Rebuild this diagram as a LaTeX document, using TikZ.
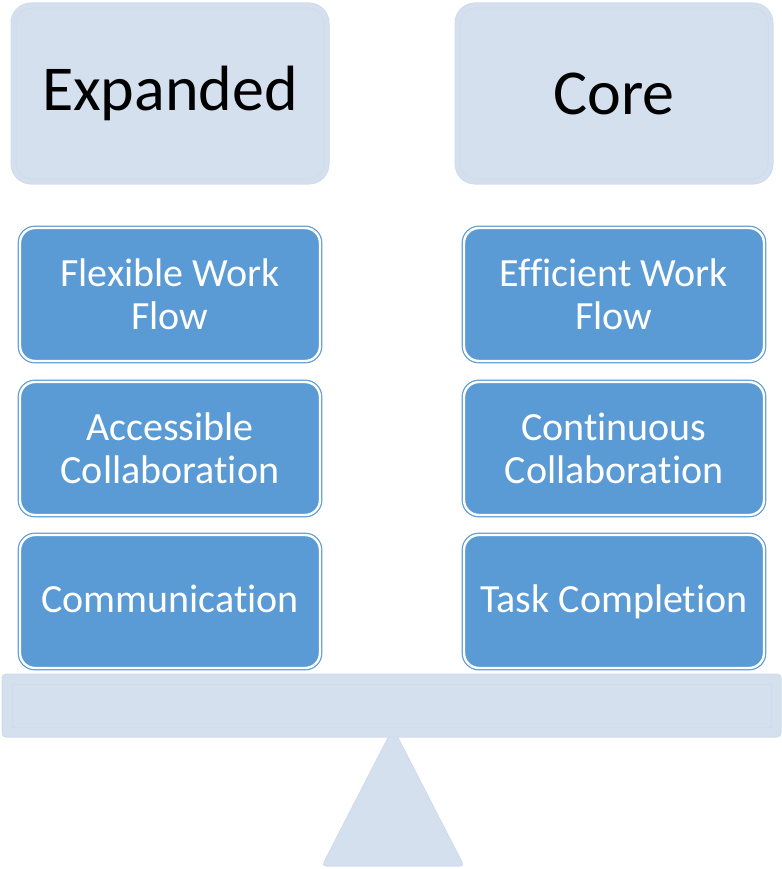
\documentclass[tikz,border=0pt]{standalone}
\usepackage{fontspec}
\setmainfont[Ligatures=NoCommon]{Carlito}
\newcommand{\nl}{\kern0pt{}}
\definecolor{hdrfill}{HTML}{D5E0EF}
\definecolor{hdrline}{HTML}{D0DCEC}
\definecolor{boxblue}{HTML}{5B9BD5}
\begin{document}
\begin{tikzpicture}[x=1pt,y=1pt,
  header/.style={rectangle, rounded corners=20pt, fill=hdrfill, draw=hdrline, line width=1pt,
    minimum width=318pt, minimum height=181pt, font=\fontsize{64}{70}\selectfont, text=black},
  itembox/.style={rectangle, rounded corners=15pt, fill=boxblue, draw=boxblue, line width=1.2pt,
    double=white, double distance=2.4pt,
    preaction={draw=white, line width=9pt},
    minimum width=300pt, minimum height=133pt, align=center, text=white,
    font=\fontsize{40}{43}\selectfont},
  base/.style={fill=hdrfill, draw=hdrline, line width=1pt}
]
\useasboundingbox (0,0) rectangle (781,-869);
% fulcrum and beam
\draw[base, rounded corners=4pt] (393,-728) -- (464,-866) -- (322,-866) -- cycle;
\node[base, rectangle, rounded corners=4pt, minimum width=779pt, minimum height=63pt, inner sep=0pt] (beam) at (391.5,-705.5) {};
\draw[hdrline, line width=0.7pt] (12,-684) rectangle (771,-727);
% headers
\node[header] (expanded) at (170,-93.5) {Expanded};
\node[header] (core) at (614,-93.5) {Core};
\draw[hdrline, line width=1pt, rounded corners=16pt] (16,-8) rectangle (324,-179);
\draw[hdrline, line width=1pt, rounded corners=16pt] (460,-8) rectangle (768,-179);
% left column
\node[itembox] (l1) at (170,-294.5) {Flexible Work\\Flow};
\node[itembox] (l2) at (170,-448.5) {Accessible\\Collaboration};
\node[itembox] (l3) at (170,-601.5) {\vphantom{Tp}Communicat\nl ion};
% right column
\node[itembox] (r1) at (614,-294.5) {Ef\nl f\nl icient Work\\Flow};
\node[itembox] (r2) at (614,-448.5) {Cont\nl inuous\\Collaborat\nl ion};
\node[itembox] (r3) at (614,-601.5) {\vphantom{Tp}Task Complet\nl ion};
\end{tikzpicture}
\end{document}
